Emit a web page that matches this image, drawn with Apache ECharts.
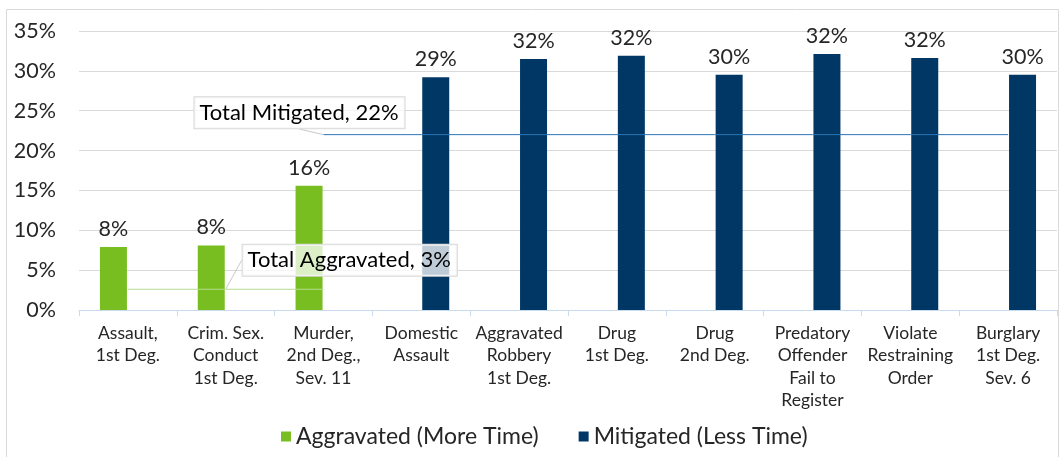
<!DOCTYPE html>
<html><head><meta charset="utf-8">
<script src="https://cdn.jsdelivr.net/npm/echarts@6/dist/echarts.min.js"></script>
<style>html,body{margin:0;padding:0;background:#fff}#c{width:1061px;height:457px}</style>
</head><body><div id="c"></div>
<script>
const categories = ["Assault,\n1st Deg.","Crim. Sex.\nConduct\n1st Deg.","Murder,\n2nd Deg.,\nSev. 11","Domestic\nAssault","Aggravated\nRobbery\n1st Deg.","Drug\n1st Deg.","Drug\n2nd Deg.","Predatory\nOffender\nFail to\nRegister","Violate\nRestraining\nOrder","Burglary\n1st Deg.\nSev. 6"];
const aggravated = [7.9, 8.1, 15.6, null, null, null, null, null, null, null];
const mitigated = [null, null, null, 29.2, 31.5, 31.9, 29.5, 32.1, 31.6, 29.5];
const totalAggravated = [2.6, 2.6, 2.6, null, null, null, null, null, null, null];
const totalAggravatedLabel = 3;
const totalMitigated = [null, null, 22, 22, 22, 22, 22, 22, 22, 22];
const yTicks = [0, 5, 10, 15, 20, 25, 30, 35];

const FONT = 'Lato, "Open Sans", sans-serif';
const chart = echarts.init(document.getElementById('c'));
const GREEN = '#78BE20', NAVY = '#003764';

function withCallout(arr, idx) {
  return arr.map((v, i) => i === idx ? {value: v, label: {show: true}, labelLine: {show: true}} : v);
}
const calloutLabel = (txt) => ({
  show: false, position: 'inside', formatter: txt, fontSize: 22, color: '#000', fontFamily: FONT,
  backgroundColor: 'rgba(255,255,255,0.75)', borderColor: '#d9d9d9', borderWidth: 1, padding: [5, 6, 4, 5]
});

chart.setOption({
  animation: false,
  textStyle: {fontFamily: FONT},
  graphic: [{type: 'rect', shape: {x: 6.5, y: 9.5, width: 1052, height: 460}, style: {fill: 'none', stroke: '#d9d9d9', lineWidth: 1}, silent: true, z: -10}],
  grid: {left: 79, right: 4, top: 31, bottom: 147},
  legend: {
    left: 276, bottom: 4, itemWidth: 10, itemHeight: 10, itemGap: 40,
    icon: 'rect',
    data: ['Aggravated (More Time)', 'Mitigated (Less Time)'],
    textStyle: {fontSize: 23, color: '#262626', fontFamily: FONT}
  },
  xAxis: {
    type: 'category', data: categories,
    axisLine: {lineStyle: {color: '#c9dcef', width: 1}},
    axisTick: {show: true, length: 6, lineStyle: {color: '#c9dcef'}},
    axisLabel: {interval: 0, fontSize: 17.5, lineHeight: 22.5, color: '#262626', margin: 12, fontFamily: FONT}
  },
  yAxis: {
    type: 'value', min: yTicks[0], max: yTicks[yTicks.length - 1], interval: 5,
    axisLine: {show: false}, axisTick: {show: false},
    splitLine: {lineStyle: {color: '#d9d9d9'}},
    axisLabel: {formatter: v => v + '%', fontSize: 21.5, color: '#262626', margin: 23, fontFamily: FONT}
  },
  series: [
    {name: 'Aggravated (More Time)', type: 'bar', data: aggravated, barWidth: 27, barGap: '7%',
     itemStyle: {color: GREEN},
     label: {show: true, position: 'top', distance: 7, fontSize: 21.5, color: '#262626', fontFamily: FONT, formatter: p => Math.round(p.value) + '%'}},
    {name: 'Mitigated (Less Time)', type: 'bar', data: mitigated, barWidth: 27,
     itemStyle: {color: NAVY},
     label: {show: true, position: 'top', distance: 7, fontSize: 21.5, color: '#262626', fontFamily: FONT, formatter: p => Math.round(p.value) + '%'}},
    {name: 'Total Mitigated', type: 'line', data: withCallout(totalMitigated, 2), symbol: 'circle', showSymbol: true, symbolSize: 1,
     itemStyle: {color: 'rgba(0,0,0,0)', borderWidth: 0},
     lineStyle: {color: '#2e75b6', width: 1}, z: 5,
     label: calloutLabel(p => 'Total Mitigated, ' + p.value + '%'),
     labelLayout: {dx: -24, dy: -22},
     labelLine: {show: false, lineStyle: {color: '#c8c8c8', width: 1}}},
    {name: 'Total Aggravated', type: 'line', data: withCallout(totalAggravated, 1), symbol: 'circle', showSymbol: true, symbolSize: 1,
     itemStyle: {color: 'rgba(0,0,0,0)', borderWidth: 0},
     lineStyle: {color: '#b5dc8f', width: 1}, z: 5,
     label: calloutLabel(p => 'Total Aggravated, ' + totalAggravatedLabel + '%'),
     labelLayout: {dx: 124, dy: -29},
     labelLine: {show: false, lineStyle: {color: '#c8c8c8', width: 1}}}
  ]
});
</script></body></html>
